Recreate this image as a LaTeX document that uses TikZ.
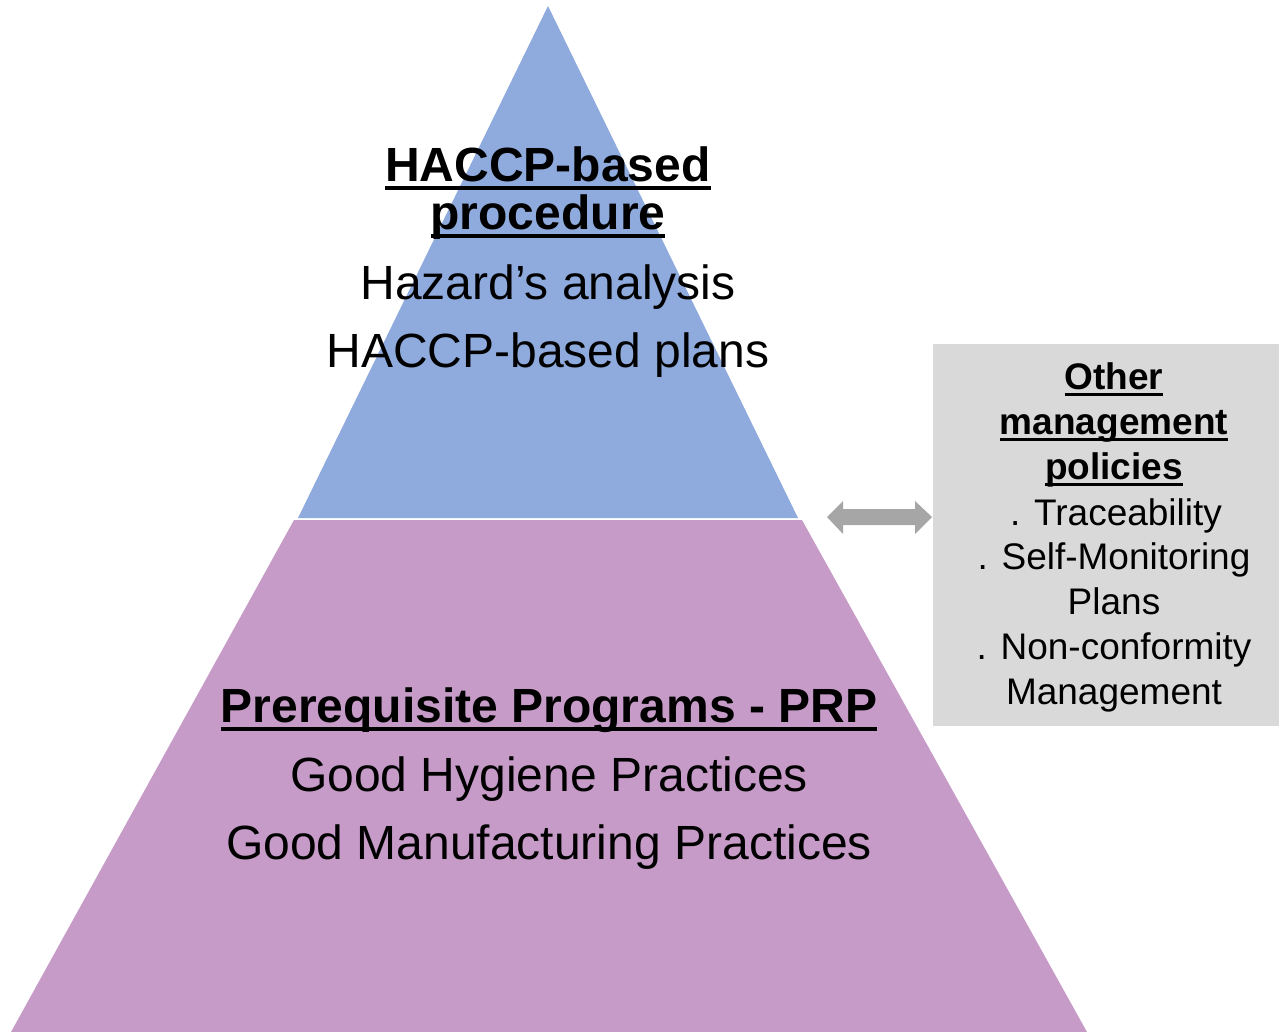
\documentclass[tikz,border=0pt]{standalone}
\usepackage{fontspec}
\setmainfont{Liberation Sans}

\definecolor{tierblue}{RGB}{143,170,220}
\definecolor{tierpurple}{RGB}{198,155,200}
\definecolor{sidegray}{RGB}{217,217,217}
\definecolor{arrowgray}{RGB}{166,166,166}

% underline that runs through the descenders, as in slide software
\newcommand\ulbar[1]{\setbox0\hbox{#1}\rlap{\rule[-0.19em]{\wd0}{0.08em}}\box0}

\begin{document}
\begin{tikzpicture}[x=1pt,y=-1pt,
  txt/.style={anchor=base,inner sep=0pt,text=black},
  bigtitle/.style={txt,font=\fontsize{48}{57}\selectfont\bfseries},
  bigline/.style={txt,font=\fontsize{48}{57}\selectfont},
  sidetitle/.style={txt,font=\fontsize{37}{44}\selectfont\bfseries},
  sideline/.style={txt,font=\fontsize{37}{44}\selectfont}]
\useasboundingbox (0,0) rectangle (1279,1031);

% pyramid tiers
\fill[tierblue] (548,6) -- (798,518) -- (298,518) -- cycle;
\fill[tierpurple] (294,520) -- (802,520) -- (1087,1032) -- (11,1032) -- cycle;

% side panel
\fill[sidegray] (933,344) rectangle (1279,726);

% two-headed block arrow between pyramid and panel
\fill[arrowgray] (827,517) -- (843,501) -- (843,509) -- (915,509) -- (915,501)
  -- (932,517) -- (915,534) -- (915,525) -- (843,525) -- (843,534) -- cycle;

% upper tier text
\node[bigtitle] (haccpA) at (548,181) {\ulbar{HACCP-based}};
\node[bigtitle] (haccpB) at (548,229) {\ulbar{procedure}};
\node[bigline]  (hazard) at (548,299) {Hazard’s analysis};
\node[bigline]  (plans)  at (548,367) {HACCP-based plans};

% lower tier text
\node[bigtitle] (prp) at (549,722) {\ulbar{Prerequisite Programs - PRP}};
\node[bigline]  (ghp) at (549,791) {Good Hygiene Practices};
\node[bigline]  (gmp) at (549,859) {Good Manufacturing Practices};

% side panel text
\node[sidetitle] (oA) at (1114,389) {\ulbar{Other}};
\node[sidetitle] (oB) at (1114,434) {\ulbar{management}};
\node[sidetitle] (oC) at (1114,479) {\ulbar{policies}};
\node[sideline]  (oD) at (1116,525) {. Traceability};
\node[sideline]  (oE) at (1114,569) {. Self-Monitoring};
\node[sideline]  (oF) at (1114,614) {Plans};
\node[sideline]  (oG) at (1114,659) {. Non-conformity};
\node[sideline]  (oH) at (1114,704) {Management};
\end{tikzpicture}
\end{document}
